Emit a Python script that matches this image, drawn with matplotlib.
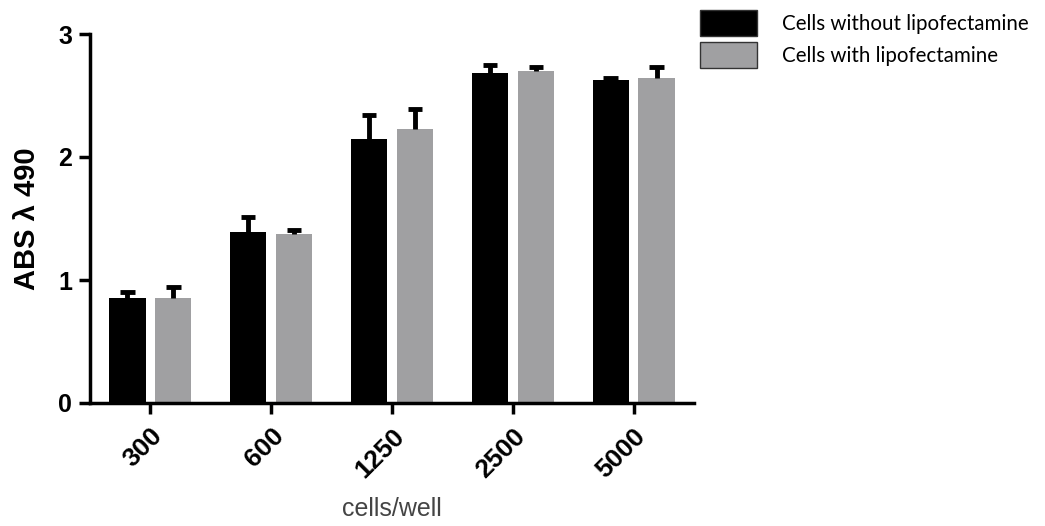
import numpy as np
import matplotlib.pyplot as plt

categories = ["300", "600", "1250", "2500", "5000"]
without_lipo = [0.85, 1.39, 2.15, 2.68, 2.63]
without_err = [0.05, 0.12, 0.19, 0.07, 0.01]
with_lipo = [0.85, 1.37, 2.23, 2.70, 2.64]
with_err = [0.09, 0.04, 0.16, 0.03, 0.09]

plt.rcParams['font.family'] = ['Liberation Sans', 'DejaVu Sans']

fig = plt.figure(figsize=(10.45, 5.26), dpi=100)
ax = fig.add_axes([90 / 1045, 1 - 403 / 526, 604 / 1045, 369 / 526])

x = np.arange(len(categories))
w = 0.30
off = 0.19
cap = 0.06

def up_errors(xs, ys, errs):
    ys = np.asarray(ys)
    tops = ys + np.asarray(errs)
    ax.vlines(xs, ys, tops, color='black', linewidth=3.5, zorder=3)
    ax.hlines(tops, xs - cap, xs + cap, color='black', linewidth=3.5, zorder=3)

ax.bar(x - off, without_lipo, w, color='black',
       label='Cells without lipofectamine', zorder=2)
ax.bar(x + off, with_lipo, w, color='#a0a0a2',
       label='Cells with lipofectamine', zorder=2)
up_errors(x - off, without_lipo, without_err)
up_errors(x + off, with_lipo, with_err)

ax.set_xlim(-0.5, 4.5)
ax.set_ylim(0, 3)
ax.set_yticks([0, 1, 2, 3])
ax.set_xticks(x)
ax.set_xticklabels(categories, rotation=45, ha='right', rotation_mode='anchor',
                   fontsize=19, fontweight='bold')
for lbl in ax.get_yticklabels():
    lbl.set_fontsize(18)
    lbl.set_fontweight('bold')

for s in ['top', 'right']:
    ax.spines[s].set_visible(False)
for s in ['left', 'bottom']:
    ax.spines[s].set_linewidth(2.5)
ax.tick_params(axis='both', length=8, width=2.5, direction='out', pad=5)
ax.tick_params(axis='x', pad=7)

ax.set_ylabel('ABS λ 490', fontsize=21, fontweight='bold', labelpad=12)
ax.set_xlabel('cells/well', fontsize=18, color='#444444', labelpad=11)

leg = fig.legend(loc='upper left', bbox_to_anchor=(700 / 1045, 1 - 10 / 526),
                 frameon=False, handlelength=2.75, handleheight=1.55,
                 handletextpad=1.25, labelspacing=0.3,
                 borderpad=0, borderaxespad=0,
                 prop={'family': 'Lato', 'size': 14.8})
for p in leg.get_patches():
    p.set_edgecolor('#333333')
    p.set_linewidth(1)

fig.savefig('out.png', dpi=100)
